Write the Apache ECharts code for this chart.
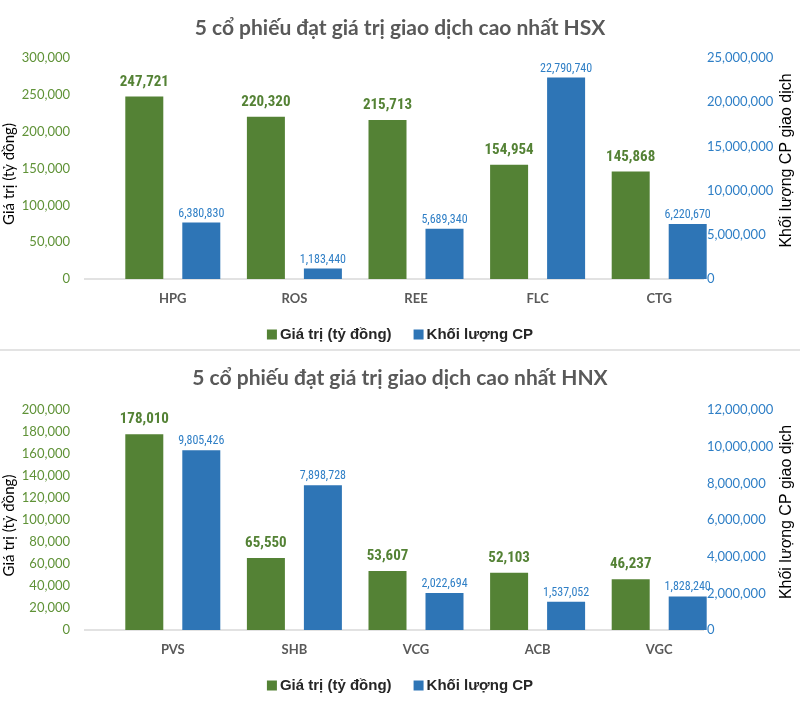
<!DOCTYPE html>
<html><head><meta charset="utf-8">
<script src="https://cdn.jsdelivr.net/npm/echarts@6/dist/echarts.min.js"></script>
<style>html,body{margin:0;padding:0;background:#fff}#c{width:800px;height:722px}</style>
</head><body><div id="c"></div>
<script>
const titleHSX = '5 cổ phiếu đạt giá trị giao dịch cao nhất HSX';
const titleHNX = '5 cổ phiếu đạt giá trị giao dịch cao nhất HNX';
const categoriesHSX = ['HPG','ROS','REE','FLC','CTG'];
const valueHSX = [247721,220320,215713,154954,145868];
const volumeHSX = [6380830,1183440,5689340,22790740,6220670];
const categoriesHNX = ['PVS','SHB','VCG','ACB','VGC'];
const valueHNX = [178010,65550,53607,52103,46237];
const volumeHNX = [9805426,7898728,2022694,1537052,1828240];
const leftTicksHSX = {min:0, max:300000, interval:50000};
const rightTicksHSX = {min:0, max:25000000, interval:5000000};
const leftTicksHNX = {min:0, max:200000, interval:20000};
const rightTicksHNX = {min:0, max:12000000, interval:2000000};
const seriesNames = ['Giá trị (tỷ đồng)','Khối lượng CP'];
const leftName = 'Giá trị (tỷ đồng)';
const rightName = 'Khối lượng CP giao dịch';

const GREEN = '#548235', BLUE = '#2E75B6';
const GREEN_TXT = '#5f9237', BLUE_TXT = '#2f7fc6';
const fmt = v => Number(v).toLocaleString('en-US');
const NARROW = "'Liberation Sans Narrow','Arial Narrow','Roboto Condensed',sans-serif";

const grids = [
  {left:112, right:80, top:58, bottom:722-279, containLabel:false, outerBoundsMode:'none'},
  {left:112, right:80, top:410, bottom:722-630, containLabel:false, outerBoundsMode:'none'}
];

function yAxes(gi, lt, rt){
  return [
    {type:'value', gridIndex:gi, min:lt.min, max:lt.max, interval:lt.interval, position:'left',
     name:leftName, nameLocation:'middle', nameGap:95, nameRotate:90, nameMoveOverlap:false,
     nameTextStyle:{color:'#000', fontSize:15, fontFamily:'Lato', padding:[0,11,0,0]},
     axisLine:{show:false}, axisTick:{show:false}, splitLine:{show:false},
     axisLabel:{color:GREEN_TXT, fontSize:13, fontFamily:'Lato', margin:42, formatter:fmt}},
    {type:'value', gridIndex:gi, min:rt.min, max:rt.max, interval:rt.interval, position:'right', offset:-13,
     name:rightName, nameLocation:'middle', nameGap:72, nameRotate:90, nameMoveOverlap:false,
     nameTextStyle:{color:'#000', fontSize:16, fontFamily:'Liberation Sans', padding:[0,0,0,16]},
     axisLine:{show:false}, axisTick:{show:false}, splitLine:{show:false},
     axisLabel:{color:BLUE_TXT, fontSize:13, fontFamily:'Lato', margin:0, formatter:fmt}}
  ];
}
function xAxis(gi, cats){
  return {type:'category', gridIndex:gi, data:cats, axisLine:{show:false}, axisTick:{show:false},
    axisLabel:{color:'#595959', fontWeight:'bold', fontSize:13, fontFamily:'Lato', margin:13}};
}
function series(xi, yl, yr, vals, vols){
  return [
    {name:seriesNames[0], type:'bar', xAxisIndex:xi, yAxisIndex:yl, data:vals, barWidth:38, barGap:'50%',
     itemStyle:{color:GREEN},
     label:{show:true, position:'top', distance:7, color:GREEN, fontWeight:'bold', fontSize:15, fontFamily:NARROW, formatter:p=>fmt(p.value)}},
    {name:seriesNames[1], type:'bar', xAxisIndex:xi, yAxisIndex:yr, data:vols, barWidth:38, barGap:'50%',
     itemStyle:{color:BLUE},
     label:{show:true, position:'top', distance:3, color:BLUE_TXT, fontSize:12, fontFamily:NARROW, formatter:p=>fmt(p.value)}}
  ];
}
const legendCommon = {data:seriesNames, left:'center', icon:'rect', itemWidth:10, itemHeight:10, itemGap:22,
  textStyle:{color:'#262626', fontWeight:'bold', fontSize:15, fontFamily:'Liberation Sans', padding:[0,0,0,-2]}};

const baseLines = grids.map(g => ({type:'line', shape:{x1:84, y1:722-g.bottom, x2:704, y2:722-g.bottom},
  style:{stroke:'#d9d9d9', lineWidth:1.5}, z:-1}));

const chart = echarts.init(document.getElementById('c'), null, {renderer:'canvas'});
chart.setOption({
  animation:false,
  title:[
    {text:titleHSX, left:'center', top:13, textStyle:{color:'#595959', fontSize:21, fontWeight:'bold', fontFamily:'Lato'}},
    {text:titleHNX, left:'center', top:363, textStyle:{color:'#595959', fontSize:21, fontWeight:'bold', fontFamily:'Lato'}}
  ],
  legend:[Object.assign({top:322}, legendCommon), Object.assign({top:673}, legendCommon)],
  grid:grids,
  xAxis:[xAxis(0, categoriesHSX), xAxis(1, categoriesHNX)],
  yAxis:[...yAxes(0, leftTicksHSX, rightTicksHSX), ...yAxes(1, leftTicksHNX, rightTicksHNX)],
  series:[...series(0,0,1,valueHSX,volumeHSX), ...series(1,2,3,valueHNX,volumeHNX)],
  graphic:[
    ...baseLines,
    {type:'rect', shape:{x:0, y:349, width:800, height:2}, style:{fill:'#e3e3e3'}}
  ]
});
</script></body></html>
